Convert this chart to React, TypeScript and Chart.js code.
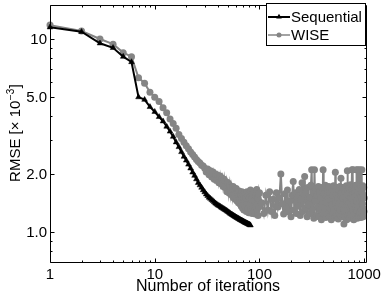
import React, { useEffect, useRef } from "react";
import { Chart, registerables } from "chart.js";

Chart.register(...registerables);

// ---- data ----
const seqY = [
  11.5, 10.9, 9.5, 9.0, 8.1, 7.6, 5.0, 4.85, 4.45, 4.2,
  3.95, 3.75, 3.52, 3.32, 3.12, 2.92, 2.76, 2.6, 2.46, 2.35,
  2.24, 2.14, 2.04, 1.96, 1.88, 1.8, 1.75, 1.7, 1.65, 1.61,
  1.57, 1.54, 1.51, 1.49, 1.47, 1.45, 1.43, 1.41, 1.395, 1.38,
  1.37, 1.36, 1.345, 1.335, 1.325, 1.315, 1.305, 1.295, 1.285, 1.275,
  1.265, 1.255, 1.245, 1.237, 1.229, 1.221, 1.213, 1.206, 1.199, 1.192,
  1.186, 1.18, 1.174, 1.168, 1.162, 1.156, 1.151, 1.146, 1.141, 1.136,
  1.131, 1.126, 1.121, 1.117, 1.113, 1.109, 1.105, 1.101, 1.097, 1.093, 1.089, 1.085,
];

// WISE: iterations 1..100 (every iteration)
const wiseHeadY = [
  11.8, 11.0, 10.0, 9.4, 8.5, 8.1, 6.3, 5.9, 5.3, 5.0,
  4.75, 4.4, 4.15, 3.85, 3.65, 3.45, 3.2, 3.05, 2.92, 2.8,
  2.7, 2.6, 2.52, 2.45, 2.38, 2.32, 2.28, 2.22, 2.2, 2.14,
  2.05, 2.12, 1.98, 2.08, 1.93, 2.05, 1.88, 2.0, 1.85, 1.97,
  1.8, 1.95, 1.78, 1.9, 1.72, 1.88, 1.7, 1.82, 1.62, 1.8,
  1.6, 1.75, 1.57, 1.7, 1.55, 1.72, 1.5, 1.65, 1.48, 1.68,
  1.45, 1.6, 1.42, 1.63, 1.4, 1.58, 1.36, 1.62, 1.33, 1.55,
  1.3, 1.6, 1.35, 1.5, 1.28, 1.62, 1.32, 1.55, 1.26, 1.5,
  1.38, 1.65, 1.3, 1.48, 1.25, 1.58, 1.34, 1.62, 1.28, 1.45,
  1.24, 1.55, 1.36, 1.66, 1.3, 1.5, 1.22, 1.58, 1.35, 1.6,
];

// WISE: iterations 105..1000 (sampled every 5 iterations)
const wiseTailY = [
  1.42, 1.25, 1.55, 1.3, 1.62, 1.28, 1.48, 1.22, 1.6, 1.35,
  1.5, 2.0, 1.4, 1.24, 1.58, 1.32, 1.65, 1.27, 1.45, 1.2,
  1.55, 1.83, 1.3, 1.6, 1.25, 1.5, 1.36, 1.66, 1.22, 1.48,
  1.8, 1.28, 1.57, 1.94, 1.33, 1.62, 1.2, 1.7, 1.38, 1.52,
  1.25, 1.75, 2.1, 1.3, 1.6, 1.18, 2.1, 1.45, 1.68, 1.22,
  1.55, 1.35, 1.72, 1.2, 1.62, 1.3, 1.5, 1.16, 1.7, 1.4,
  2.1, 1.26, 1.58, 1.34, 1.75, 1.19, 1.52, 1.42, 1.66, 1.24,
  1.5, 1.72, 1.2, 1.6, 1.32, 1.46, 1.16, 1.68, 1.38, 1.55,
  1.25, 1.74, 1.3, 1.62, 1.19, 2.04, 1.42, 1.56, 1.22, 1.7,
  1.35, 1.5, 1.17, 1.66, 1.4, 1.25, 1.72, 1.3, 1.55, 1.9,
  1.2, 1.6, 1.38, 1.7, 1.24, 1.5, 1.32, 1.1, 1.58, 1.28,
  1.68, 1.2, 1.52, 1.36, 1.74, 1.16, 1.45, 2.08, 1.3, 1.62,
  1.22, 1.55, 1.4, 1.7, 1.18, 1.6, 1.34, 1.76, 1.25, 1.5,
  1.38, 1.65, 2.1, 1.2, 1.58, 2.1, 1.3, 1.72, 1.16, 1.52,
  1.42, 1.68, 1.24, 1.6, 1.35, 1.75, 1.2, 2.1, 1.45, 1.3,
  1.62, 1.18, 1.55, 2.1, 1.32, 1.7, 1.22, 1.5, 1.4, 1.66,
  2.1, 1.26, 1.58, 1.35, 1.72, 1.19, 1.52, 1.3, 1.68, 2.1,
  1.24, 1.6, 1.4, 1.74, 1.2, 1.55, 1.32, 1.7, 1.28, 1.5,
];

const xTicks = [1, 10, 100, 1000];
const xTickLabels = ["1", "10", "100", "1000"];
const yTicks = [1, 2, 5, 10];
const yTickLabels = ["1.0", "2.0", "5.0", "10"];
const xMinorTicks = [2, 3, 4, 5, 6, 7, 8, 9, 20, 30, 40, 50, 60, 70, 80, 90, 200, 300, 400, 500, 600, 700, 800, 900];
const yMinorTicks = [0.8, 0.9, 3, 4, 6, 7, 8, 9];
const seriesNames = ["Sequential", "WISE"];
const xTitle = "Number of iterations";

const GRAY = "#858585";
const FONT = '"Liberation Sans", Arial, Helvetica, sans-serif';

const seqData = seqY.map((v, i) => ({ x: i + 1, y: v }));
const wiseData = [
  ...wiseHeadY.map((v, i) => ({ x: i + 1, y: v })),
  ...wiseTailY.map((v, i) => ({ x: 105 + 5 * i, y: v })),
];

function drawTriangle(ctx: CanvasRenderingContext2D, cx: number, cy: number, r: number) {
  const h = r * 1.5;
  const w = r * Math.sqrt(3);
  ctx.beginPath();
  ctx.moveTo(cx, cy - r);
  ctx.lineTo(cx + w / 2, cy - r + h);
  ctx.lineTo(cx - w / 2, cy - r + h);
  ctx.closePath();
  ctx.fill();
}

const axesPlugin = {
  id: "matlabAxes",
  afterDatasetsDraw(chart: any) {
    const { ctx, chartArea, scales } = chart;
    const { left, right, top, bottom } = chartArea;
    const xs = scales.x;
    const ys = scales.y;
    ctx.save();
    ctx.strokeStyle = "#000";
    ctx.lineWidth = 1;
    const L = Math.round(left) + 0.5;
    const R = Math.round(right) + 0.5;
    const T = Math.round(top) + 0.5;
    const B = Math.round(bottom) + 0.5;

    ctx.beginPath();
    const xt = (v: number, len: number) => {
      const p = Math.round(xs.getPixelForValue(v)) + 0.5;
      ctx.moveTo(p, B);
      ctx.lineTo(p, B - len);
      ctx.moveTo(p, T);
      ctx.lineTo(p, T + len);
    };
    const yt = (v: number, len: number) => {
      const p = Math.round(ys.getPixelForValue(v)) + 0.5;
      ctx.moveTo(L, p);
      ctx.lineTo(L + len, p);
      ctx.moveTo(R, p);
      ctx.lineTo(R - len, p);
    };
    xTicks.forEach((v) => xt(v, 4));
    xMinorTicks.forEach((v) => xt(v, 2));
    yTicks.forEach((v) => yt(v, 4));
    yMinorTicks.forEach((v) => yt(v, 2));
    ctx.stroke();

    // box
    ctx.beginPath();
    ctx.rect(L, T, R - L, B - T);
    ctx.stroke();

    // tick labels
    ctx.fillStyle = "#000";
    ctx.font = `15px ${FONT}`;
    ctx.textAlign = "center";
    ctx.textBaseline = "alphabetic";
    xTicks.forEach((v, i) => {
      ctx.fillText(xTickLabels[i], xs.getPixelForValue(v), 279);
    });
    ctx.textAlign = "right";
    ctx.textBaseline = "middle";
    yTicks.forEach((v, i) => {
      ctx.fillText(yTickLabels[i], left - 3, ys.getPixelForValue(v) + 1);
    });

    // x title
    ctx.font = `16px ${FONT}`;
    ctx.textAlign = "center";
    ctx.textBaseline = "alphabetic";
    ctx.fillText(xTitle, (left + right) / 2, 291);

    // y title with superscript
    ctx.save();
    ctx.translate(20, (top + bottom) / 2);
    ctx.rotate(-Math.PI / 2);
    const mainFont = `15px ${FONT}`;
    const supFont = `10px ${FONT}`;
    const p1 = "RMSE [\u00d7 10";
    const p2 = "\u22123";
    const p3 = "]";
    ctx.font = mainFont;
    const w1 = ctx.measureText(p1).width;
    const w3 = ctx.measureText(p3).width;
    ctx.font = supFont;
    const w2 = ctx.measureText(p2).width;
    let sx = -(w1 + w2 + w3) / 2;
    ctx.textAlign = "left";
    ctx.textBaseline = "alphabetic";
    ctx.font = mainFont;
    ctx.fillText(p1, sx, 0);
    sx += w1;
    ctx.font = supFont;
    ctx.fillText(p2, sx + 0.5, -6);
    sx += w2 + 1;
    ctx.font = mainFont;
    ctx.fillText(p3, sx, 0);
    ctx.restore();

    // legend
    const lx = 266.5, ly = 3.5, lw = 99, lh = 42;
    ctx.fillStyle = "#fff";
    ctx.fillRect(lx, ly, lw, lh);
    ctx.strokeStyle = "#000";
    ctx.strokeRect(lx, ly, lw, lh);
    const rows = [17, 35];
    const colors = ["#000", GRAY];
    rows.forEach((ry, i) => {
      ctx.strokeStyle = colors[i];
      ctx.fillStyle = colors[i];
      ctx.lineWidth = i === 0 ? 2 : 1.5;
      ctx.beginPath();
      ctx.moveTo(268, ry);
      ctx.lineTo(290, ry);
      ctx.stroke();
      if (i === 0) {
        drawTriangle(ctx, 279, ry, 3.2);
      } else {
        ctx.beginPath();
        ctx.arc(279, ry, 2.5, 0, Math.PI * 2);
        ctx.fill();
      }
      ctx.fillStyle = "#000";
      ctx.font = `15px ${FONT}`;
      ctx.textAlign = "left";
      ctx.textBaseline = "middle";
      ctx.fillText(seriesNames[i], 291, ry + 1);
    });
    ctx.restore();
  },
};

export default function App() {
  const ref = useRef<HTMLCanvasElement | null>(null);
  useEffect(() => {
    if (!ref.current) return;
    const chart = new Chart(ref.current, {
      type: "line",
      data: {
        datasets: [
          {
            label: seriesNames[0],
            data: seqData,
            borderColor: "#000",
            backgroundColor: "#000",
            borderWidth: 2,
            pointStyle: "triangle",
            pointRadius: 3.3,
            pointBorderWidth: 0.5,
            pointBackgroundColor: "#000",
            pointBorderColor: "#000",
            tension: 0,
            clip: false as any,
          },
          {
            label: seriesNames[1],
            data: wiseData,
            borderColor: GRAY,
            backgroundColor: GRAY,
            borderWidth: 2,
            pointStyle: "circle",
            pointRadius: 3.5,
            pointBorderWidth: 0,
            pointBackgroundColor: GRAY,
            pointBorderColor: GRAY,
            tension: 0,
            clip: false as any,
          },
        ],
      },
      options: {
        responsive: false,
        animation: false,
        devicePixelRatio: 1,
        layout: { padding: { left: 50, top: 5, right: 16, bottom: 35 } },
        scales: {
          x: { type: "logarithmic", min: 1, max: 1040, display: false },
          y: { type: "logarithmic", min: 0.71, max: 15, display: false },
        },
        plugins: { legend: { display: false }, tooltip: { enabled: false } },
        events: [],
      },
      plugins: [axesPlugin],
    });
    return () => chart.destroy();
  }, []);
  return (
    <div style={{ position: "fixed", left: 0, top: 0, width: 382, height: 297, background: "#fff" }}>
      <canvas ref={ref} width={382} height={297} style={{ display: "block" }} />
    </div>
  );
}
